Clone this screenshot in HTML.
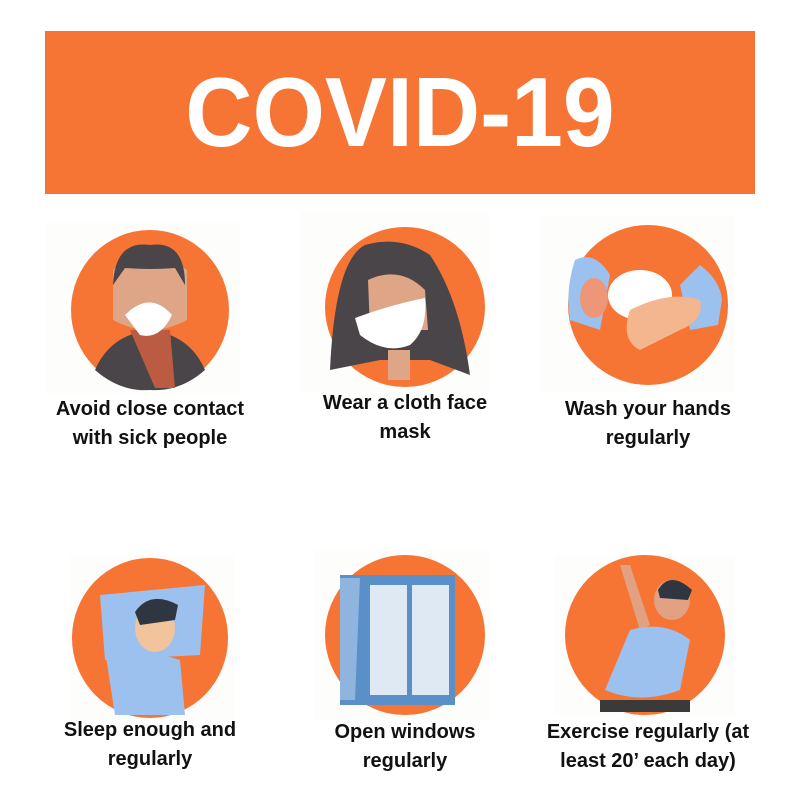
<!DOCTYPE html>
<html><head><meta charset="utf-8"><style>
body{margin:0;width:800px;height:800px;background:#fff;position:relative;overflow:hidden;font-family:"Liberation Sans",sans-serif}
.banner{position:absolute;left:45px;top:31px;width:710px;height:163px;background:#f67535}
.title{position:absolute;left:0;width:710px;top:26px;text-align:center;color:#fff;font-weight:bold;font-size:98px;line-height:110px;transform:scaleX(0.95)}
.lab{position:absolute;width:240px;text-align:center;font-weight:bold;font-size:20px;line-height:29px;color:#111}
svg{position:absolute;left:0;top:0}
</style></head><body>
<div class="banner"><div class="title">COVID-19</div></div>
<svg width="800" height="800">
<g>
<rect x="45" y="222" width="195" height="172" fill="#fdfdfb"/>
<ellipse cx="150" cy="310" rx="79" ry="80" fill="#f67535"/>
<path d="M95,370 Q110,335 150,330 Q190,335 205,370 Q180,392 150,390 Q120,392 95,370Z" fill="#4a4548"/>
<path d="M130,330 L170,330 L175,388 L155,388Z" fill="#bb5c42"/>
<path d="M113,270 Q150,240 187,270 L187,320 Q150,340 113,320Z" fill="#dfa587"/>
<path d="M113,285 Q115,240 150,245 Q185,240 185,285 L175,268 Q150,270 125,268Z" fill="#4a4548"/>
<path d="M125,315 Q150,290 172,315 Q160,340 140,335Z" fill="#fff"/>
</g>
<g>
<rect x="300" y="212" width="190" height="180" fill="#fdfdfb"/>
<ellipse cx="405" cy="307" rx="80" ry="80" fill="#f67535"/>
<path d="M330,370 Q335,260 365,245 Q400,235 430,255 Q460,300 470,375 L430,360 L380,360Z" fill="#4a4548"/>
<path d="M368,280 Q400,265 425,290 L428,330 L370,330Z" fill="#dfa587"/>
<path d="M355,318 Q390,305 425,298 Q428,330 410,345 Q385,355 360,335Z" fill="#fff"/>
<rect x="388" y="350" width="22" height="30" fill="#dfa587"/>
</g>
<g>
<rect x="540" y="215" width="195" height="177" fill="#fdfdfb"/>
<ellipse cx="648" cy="305" rx="80" ry="80" fill="#f67535"/>
<path d="M575,260 Q595,250 610,275 L600,330 L570,320 Q565,290 575,260Z" fill="#9cc1ef"/>
<path d="M700,265 Q720,280 722,300 L718,325 L690,330 L680,285Z" fill="#9cc1ef"/>
<ellipse cx="594" cy="298" rx="14" ry="20" fill="#ee9678"/>
<ellipse cx="640" cy="295" rx="32" ry="25" fill="#fff"/>
<path d="M630,310 Q670,290 700,300 Q705,320 680,330 L640,350 Q620,340 630,310Z" fill="#f4b68e"/>
</g>
<g>
<rect x="70" y="555" width="165" height="165" fill="#fdfdfb"/>
<ellipse cx="150" cy="638" rx="78" ry="80" fill="#f67535"/>
<path d="M100,595 L205,585 L200,655 L105,660Z" fill="#9cc1ef"/>
<path d="M105,650 Q150,650 180,660 L185,715 L115,715Z" fill="#9cc1ef"/>
<ellipse cx="155" cy="628" rx="20" ry="24" fill="#f1c49c"/>
<path d="M135,612 Q150,590 178,605 L175,620 L140,625Z" fill="#2f3541"/>
</g>
<g>
<rect x="315" y="550" width="175" height="170" fill="#fdfdfb"/>
<ellipse cx="405" cy="635" rx="80" ry="80" fill="#f67535"/>
<rect x="340" y="575" width="115" height="130" fill="#5b8fc7"/>
<rect x="370" y="585" width="37" height="110" fill="#dfe9f3"/>
<rect x="412" y="585" width="37" height="110" fill="#dfe9f3"/>
<path d="M340,578 L360,578 L355,700 L340,700Z" fill="#8fb5de"/>
</g>
<g>
<rect x="555" y="555" width="180" height="160" fill="#fdfdfb"/>
<ellipse cx="645" cy="635" rx="80" ry="80" fill="#f67535"/>
<path d="M620,565 L630,565 L650,625 L640,630Z" fill="#e3a184"/>
<path d="M630,630 Q665,620 690,640 L680,690 Q640,705 605,690Z" fill="#9cc1ef"/>
<ellipse cx="672" cy="600" rx="18" ry="20" fill="#e3a184"/>
<path d="M658,590 Q670,570 692,590 L688,600 L660,598Z" fill="#2f3541"/>
<path d="M600,700 L690,700 L690,712 L600,712Z" fill="#3a3a3a"/>
</g>
</svg>
<div class="lab" style="left:30px;top:395px">Avoid close contact<br>with sick people</div>
<div class="lab" style="left:285px;top:389px">Wear a cloth face<br>mask</div>
<div class="lab" style="left:528px;top:395px">Wash your hands<br>regularly</div>
<div class="lab" style="left:30px;top:716px">Sleep enough and<br>regularly</div>
<div class="lab" style="left:285px;top:718px">Open windows<br>regularly</div>
<div class="lab" style="left:528px;top:718px">Exercise regularly (at<br>least 20’ each day)</div>
</body></html>
